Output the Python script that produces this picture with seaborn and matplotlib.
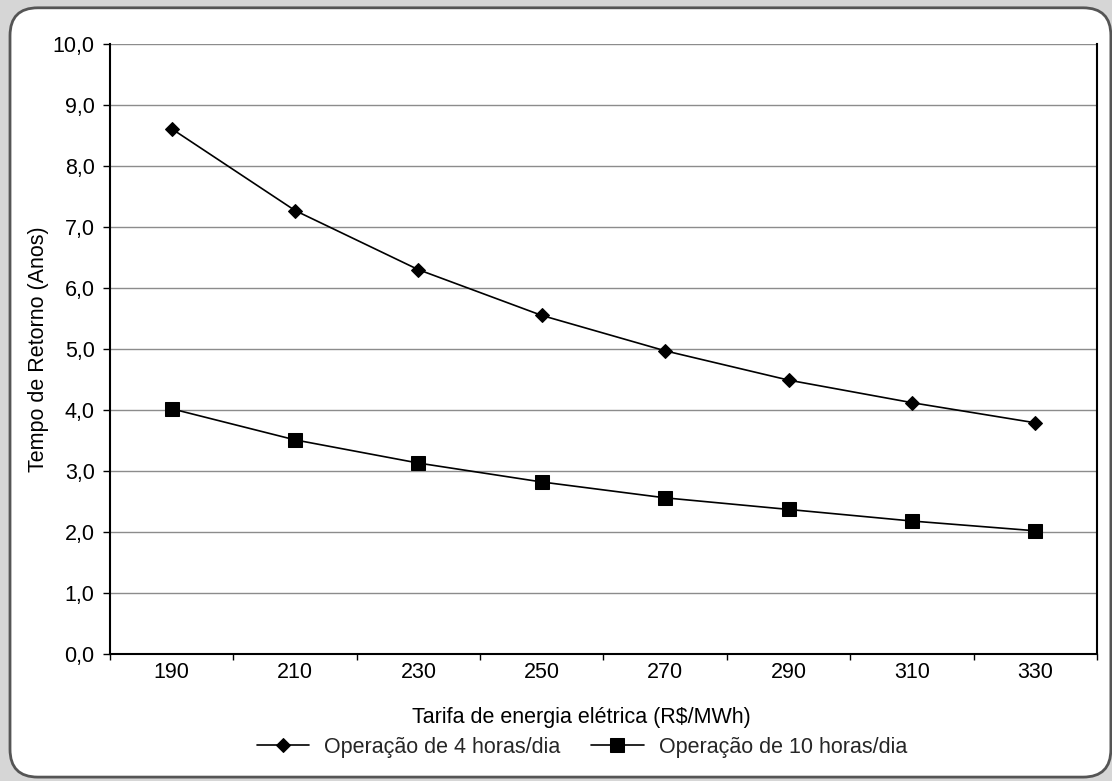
import numpy as np
import pandas as pd
import seaborn as sns
import matplotlib.pyplot as plt
from matplotlib.patches import FancyBboxPatch
from matplotlib.ticker import FixedLocator, FuncFormatter

tarifas = ['190', '210', '230', '250', '270', '290', '310', '330']
retorno_4h = [8.61, 7.27, 6.30, 5.55, 4.97, 4.49, 4.12, 3.79]
retorno_10h = [4.02, 3.51, 3.13, 2.82, 2.56, 2.37, 2.18, 2.02]
serie_4h = 'Operação de 4 horas/dia'
serie_10h = 'Operação de 10 horas/dia'

sns.set_theme(style='white')
plt.rcParams['font.family'] = ['Liberation Sans', 'DejaVu Sans']

df = pd.DataFrame({'tarifa': tarifas, serie_4h: retorno_4h, serie_10h: retorno_10h})

fig = plt.figure(figsize=(11.12, 7.81), dpi=100)
fig.patch.set_facecolor('#d6d6d6')
box = FancyBboxPatch((0.009, 0.005), 0.99, 0.985, boxstyle='round,pad=0,rounding_size=0.025',
                     transform=fig.transFigure, facecolor='white', edgecolor='#555555', linewidth=2,
                     mutation_aspect=1112 / 781, zorder=-10)
fig.patches.append(box)

ax = fig.add_axes([0.0989, 0.1626, 0.8876, 0.7811])
ax.set_facecolor('white')
ax.set_zorder(1)

sns.lineplot(data=df, x='tarifa', y=serie_4h, ax=ax, color='black', lw=1.2,
             marker='D', markersize=7.5, markeredgecolor='black', label=serie_4h)
sns.lineplot(data=df, x='tarifa', y=serie_10h, ax=ax, color='black', lw=1.2,
             marker='s', markersize=10, markeredgecolor='black', label=serie_10h)

ax.set_xlim(-0.5, len(tarifas) - 0.5)
ax.set_ylim(0, 10)
ax.yaxis.set_major_locator(FixedLocator(np.arange(0, 11, 1)))
ax.yaxis.set_major_formatter(FuncFormatter(lambda v, p: f'{v:.1f}'.replace('.', ',')))
ax.grid(axis='y', color='#8c8c8c', lw=1)
ax.set_axisbelow(True)

ax.xaxis.set_major_locator(FixedLocator(np.arange(-0.5, len(tarifas), 1)))
ax.xaxis.set_minor_locator(FixedLocator(np.arange(len(tarifas))))
ax.set_xticklabels([])
ax.set_xticklabels(tarifas, minor=True)
ax.tick_params(axis='x', which='major', direction='out', length=4, width=1, color='black', bottom=True)
ax.tick_params(axis='x', which='minor', length=0, labelsize=15.5, pad=6, labelcolor='black')
ax.tick_params(axis='y', direction='out', length=5, width=1, color='black', left=True,
               labelsize=15.5, labelcolor='black', pad=6)

for s in ['left', 'bottom', 'right']:
    ax.spines[s].set_color('black')
    ax.spines[s].set_linewidth(1.5)
ax.spines['top'].set_visible(False)

ax.set_xlabel('Tarifa de energia elétrica (R$/MWh)', fontsize=15.5, color='black', va='center')
ax.set_ylabel('Tempo de Retorno (Anos)', fontsize=15.5, color='black', va='center')
ax.xaxis.set_label_coords(0.478, -0.104)
ax.yaxis.set_label_coords(-0.072, 0.5)

ax.legend(loc='center', bbox_to_anchor=(0.478, -0.153), ncol=2, frameon=False,
          fontsize=15.5, handlelength=2.45, columnspacing=1.4, handletextpad=0.7)

fig.savefig('out.png', dpi=100, facecolor=fig.get_facecolor())
